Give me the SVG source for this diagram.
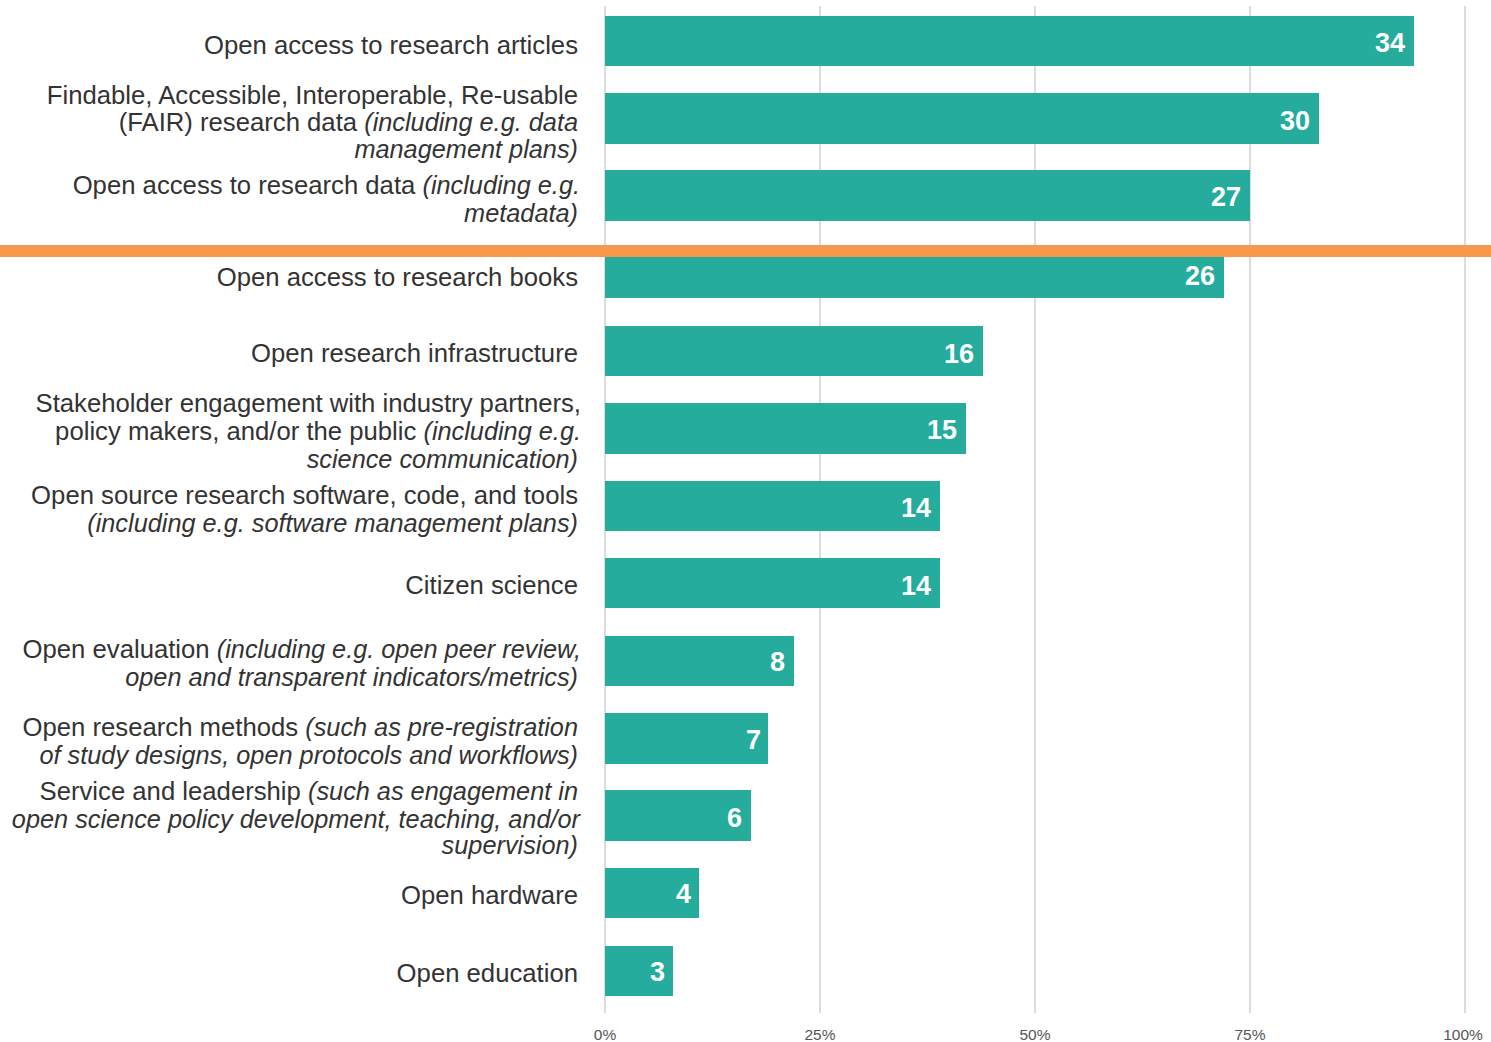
<svg xmlns="http://www.w3.org/2000/svg" width="1491" height="1042" viewBox="0 0 1491 1042">
<style>
.lbl{font-family:"Liberation Sans",Arial,sans-serif;font-size:25.7px;fill:#333;text-anchor:end}
.it{font-style:italic;font-size:25.3px}
.bar{fill:#25ac9d}
.val{font-family:"Liberation Sans",Arial,sans-serif;font-size:27px;font-weight:bold;fill:#fff;text-anchor:end}
.grid{stroke:#dcdcdc;stroke-width:2}
.tick{font-family:"Liberation Sans",Arial,sans-serif;font-size:15.5px;fill:#555;text-anchor:middle}
</style>
<rect width="1491" height="1042" fill="#fff"/>
<g id="axis">
<line class="grid" x1="605" y1="6" x2="605" y2="1013"/>
<line class="grid" x1="820" y1="6" x2="820" y2="1013"/>
<line class="grid" x1="1035" y1="6" x2="1035" y2="1013"/>
<line class="grid" x1="1250" y1="6" x2="1250" y2="1013"/>
<line class="grid" x1="1465" y1="6" x2="1465" y2="1013"/>
<text class="tick" x="605" y="1040">0%</text>
<text class="tick" x="820" y="1040">25%</text>
<text class="tick" x="1035" y="1040">50%</text>
<text class="tick" x="1250" y="1040">75%</text>
<text class="tick" x="1463" y="1040">100%</text>
</g>
<g id="bar1"><rect class="bar" x="605" y="16" width="809" height="50"/><text class="val" x="1405" y="52">34</text>
<text class="lbl" x="578" y="54">Open access to research articles</text></g>
<g id="bar2"><rect class="bar" x="605" y="93" width="714" height="51"/><text class="val" x="1310" y="130">30</text>
<text class="lbl" x="578" y="104">Findable, Accessible, Interoperable, Re-usable</text>
<text class="lbl" x="578" y="131">(FAIR) research data <tspan class="it">(including e.g. data</tspan></text>
<text class="lbl it" x="578" y="158">management plans)</text></g>
<g id="bar3"><rect class="bar" x="605" y="170" width="645" height="51"/><text class="val" x="1241" y="206">27</text>
<text class="lbl" x="580" y="194">Open access to research data <tspan class="it">(including e.g.</tspan></text>
<text class="lbl it" x="578" y="222">metadata)</text></g>
<g id="bar4"><rect class="bar" x="605" y="248" width="619" height="50"/><text class="val" x="1215" y="285">26</text>
<text class="lbl" x="578" y="286">Open access to research books</text></g>
<g id="bar5"><rect class="bar" x="605" y="326" width="378" height="50"/><text class="val" x="974" y="363">16</text>
<text class="lbl" x="578" y="362">Open research infrastructure</text></g>
<g id="bar6"><rect class="bar" x="605" y="403" width="361" height="51"/><text class="val" x="957" y="439">15</text>
<text class="lbl" x="581" y="412">Stakeholder engagement with industry partners,</text>
<text class="lbl" x="581" y="440">policy makers, and/or the public <tspan class="it">(including e.g.</tspan></text>
<text class="lbl it" x="578" y="468">science communication)</text></g>
<g id="bar7"><rect class="bar" x="605" y="481" width="335" height="50"/><text class="val" x="931" y="517">14</text>
<text class="lbl" x="578" y="504">Open source research software, code, and tools</text>
<text class="lbl it" x="578" y="532">(including e.g. software management plans)</text></g>
<g id="bar8"><rect class="bar" x="605" y="558" width="335" height="50"/><text class="val" x="931" y="595">14</text>
<text class="lbl" x="578" y="594">Citizen science</text></g>
<g id="bar9"><rect class="bar" x="605" y="636" width="189" height="50"/><text class="val" x="785" y="671">8</text>
<text class="lbl" x="581" y="658">Open evaluation <tspan class="it">(including e.g. open peer review,</tspan></text>
<text class="lbl it" x="578" y="686">open and transparent indicators/metrics)</text></g>
<g id="bar10"><rect class="bar" x="605" y="713" width="163" height="51"/><text class="val" x="761" y="749">7</text>
<text class="lbl" x="578" y="736">Open research methods <tspan class="it">(such as pre-registration</tspan></text>
<text class="lbl it" x="578" y="764">of study designs, open protocols and workflows)</text></g>
<g id="bar11"><rect class="bar" x="605" y="790" width="146" height="51"/><text class="val" x="742" y="827">6</text>
<text class="lbl" x="578" y="800">Service and leadership <tspan class="it">(such as engagement in</tspan></text>
<text class="lbl it" x="580" y="828">open science policy development, teaching, and/or</text>
<text class="lbl it" x="578" y="854">supervision)</text></g>
<g id="bar12"><rect class="bar" x="605" y="868" width="94" height="50"/><text class="val" x="691" y="903">4</text>
<text class="lbl" x="578" y="904">Open hardware</text></g>
<g id="bar13"><rect class="bar" x="605" y="946" width="68" height="50"/><text class="val" x="665" y="981">3</text>
<text class="lbl" x="578" y="982">Open education</text></g>
<g id="connectors"><rect id="cutoff" x="0" y="245" width="1491" height="12" fill="#f7984a"/></g>
</svg>
